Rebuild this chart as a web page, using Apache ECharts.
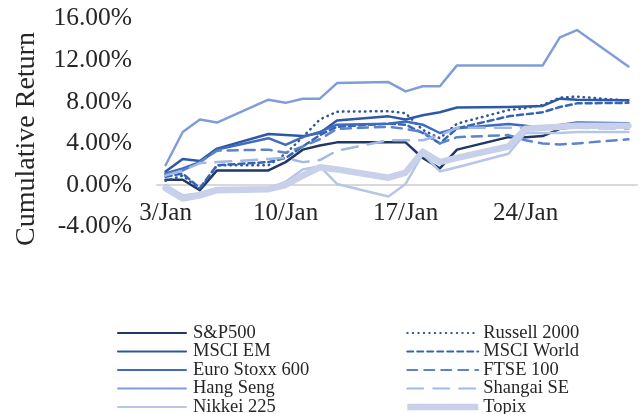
<!DOCTYPE html>
<html>
<head>
<meta charset="utf-8">
<script src="https://cdn.jsdelivr.net/npm/echarts@6/dist/echarts.min.js"></script>
<style>
  html, body { margin: 0; padding: 0; background: #fff; }
  #chart { width: 642px; height: 414px; }
</style>
</head>
<body>
<div id="chart"></div>
<script>
// calendar days of January, weekends left empty (null) and joined across
var days = ['3/Jan', '4/Jan', '5/Jan', '6/Jan', '7/Jan', '8/Jan', '9/Jan', '10/Jan', '11/Jan', '12/Jan',
    '13/Jan', '14/Jan', '15/Jan', '16/Jan', '17/Jan', '18/Jan', '19/Jan', '20/Jan', '21/Jan', '22/Jan',
    '23/Jan', '24/Jan', '25/Jan', '26/Jan', '27/Jan', '28/Jan', '29/Jan', '30/Jan'];

var yTicks = [-4, 0, 4, 8, 12, 16];

// cumulative return, %
var spx       = [0.5, 0.5, -0.5, 1.4, null, null, 1.4, 2.2, 3.4, 3.8, 4.1, null, null, 4.1, 4.1, 2.6, 1.6, 3.4, null, null, 4.6, 4.6, 4.7, 5.4, 5.6, null, null, 5.6];
var russell   = [0.4, 0.9, -0.4, 1.9, null, null, 1.9, 3.0, 4.6, 6.3, 7.05, null, null, 7.1, 6.9, 5.3, 4.5, 5.9, null, null, 7.2, 7.4, 7.7, 8.4, 8.5, null, null, 8.1];
var msciEm    = [1.3, 2.5, 2.3, 3.5, null, null, 4.9, 4.8, 4.7, 5.0, 6.2, null, null, 6.6, 6.3, 6.7, 7.0, 7.45, null, null, 7.5, 7.55, 7.6, 8.3, 8.2, null, null, 8.15];
var msciWorld = [0.8, 1.1, -0.3, 1.9, null, null, 2.2, 2.6, 3.7, 4.8, 5.6, null, null, 5.9, 5.8, 5.0, 4.0, 5.45, null, null, 6.6, 6.8, 7.0, 7.5, 7.85, null, null, 7.9];
var euroStoxx = [1.1, 1.6, 2.2, 3.4, null, null, 4.5, 3.85, 4.6, 5.1, 5.8, null, null, 5.9, 6.1, 5.8, 5.0, 5.45, null, null, 5.87, 5.7, 5.45, 5.77, 6.0, null, null, 5.93];
var ftse      = [1.0, 1.4, 2.2, 3.3, null, null, 3.4, 3.1, 3.7, 4.4, 5.4, null, null, 5.6, 5.4, 5.1, 4.0, 4.6, null, null, 4.8, 4.3, 4.0, 3.9, 4.0, null, null, 4.4];
var hangSeng  = [1.9, 5.1, 6.3, 6.0, null, null, 8.2, 7.9, 8.3, 8.3, 9.8, null, null, 9.9, 9.0, 9.5, 9.5, 11.5, null, null, 11.5, 11.5, 11.5, 14.2, 14.9, null, null, 11.4];
var shanghai  = [0.9, 1.4, 2.1, 2.2, null, null, 2.5, 2.6, 2.2, 2.4, 3.3, null, null, 4.3, 4.3, 4.3, 4.8, 5.5, null, null, 5.5, 5.5, 5.5, 5.5, 5.5, null, null, 5.4];
var nikkei    = [0.0, -1.0, -0.8, -0.3, null, null, -0.3, 0.3, 1.5, 1.8, 0.1, null, null, -1.1, 0.1, 3.0, 1.3, 1.7, null, null, 3.0, 5.0, 5.0, 5.0, 5.1, null, null, 5.1];
var topix     = [-0.3, -1.3, -1.0, -0.5, null, null, -0.4, 0.0, 0.9, 1.7, 1.5, null, null, 0.7, 1.2, 3.2, 2.2, 2.6, null, null, 3.7, 5.4, 5.5, 5.6, 5.7, null, null, 5.7];

var font = "'Liberation Serif', 'Times New Roman', serif";
var textColor = '#262626';

function line(name, data, color, type, width) {
    return {
        name: name,
        type: 'line',
        data: data,
        symbol: 'none',
        connectNulls: true,
        animation: false,
        lineStyle: { color: color, width: width || 2.5, type: type || 'solid', cap: 'round', join: 'round' },
        itemStyle: { color: color }
    };
}

function legendCol(left, iconWidth, textPad, names) {
    return {
        orient: 'vertical',
        left: left,
        top: 323.5,
        height: 100,
        padding: 0,
        itemWidth: iconWidth,
        itemHeight: 10,
        itemGap: -0.5,
        itemStyle: { opacity: 0 },
        textStyle: { fontFamily: font, fontSize: 18.5, lineHeight: 17.6, color: textColor, padding: [0, 0, 0, textPad] },
        data: names
    };
}

var chart = echarts.init(document.getElementById('chart'));

var option = {
    backgroundColor: '#fff',
    animation: false,
    grid: { left: 157, right: 5, top: 18.6, bottom: 187.4, containLabel: false },
    xAxis: {
        type: 'category',
        data: days,
        boundaryGap: true,
        axisLine: { onZero: true, lineStyle: { color: '#D9D9D9', width: 2 } },
        axisTick: { show: false },
        axisLabel: {
            interval: 6,
            margin: -26,
            fontFamily: font,
            fontSize: 25,
            color: textColor
        }
    },
    yAxis: {
        type: 'value',
        min: yTicks[0],
        max: yTicks[yTicks.length - 1],
        interval: 4,
        axisLine: { show: false },
        axisTick: { show: false },
        splitLine: { show: false },
        axisLabel: {
            margin: 25,
            fontFamily: font,
            fontSize: 25.5,
            color: textColor,
            formatter: function (v) { return v.toFixed(2) + '%'; }
        }
    },
    graphic: [{
        type: 'text',
        x: 27,
        y: 139,
        rotation: Math.PI / 2,
        style: {
            text: 'Cumulative Return',
            font: '28px ' + font,
            fill: textColor,
            align: 'center',
            verticalAlign: 'middle'
        }
    }],
    legend: [
        legendCol(117, 68, 2, ['S&P500', 'MSCI EM', 'Euro Stoxx 600', 'Hang Seng', 'Nikkei 225']),
        legendCol(404, 71, 0, ['Russell 2000', 'MSCI World', 'FTSE 100', 'Shangai SE',
            { name: 'Topix', lineStyle: { width: 6.5, cap: 'butt' } }])
    ],
    series: [
        line('S&P500', spx, '#203864'),
        line('Russell 2000', russell, '#2F5597', [0.5, 5]),
        line('MSCI EM', msciEm, '#2E58A6'),
        line('MSCI World', msciWorld, '#3563B5', [6, 4]),
        line('Euro Stoxx 600', euroStoxx, '#3F6BBE'),
        line('FTSE 100', ftse, '#5B84CC', [10, 7]),
        line('Hang Seng', hangSeng, '#819DD8'),
        line('Shangai SE', shanghai, '#A3B8E3', [16, 10]),
        line('Nikkei 225', nikkei, '#B7C6E7'),
        line('Topix', topix, '#C8D0EA', 'solid', 6.5)
    ]
};

chart.setOption(option);
</script>
</body>
</html>
